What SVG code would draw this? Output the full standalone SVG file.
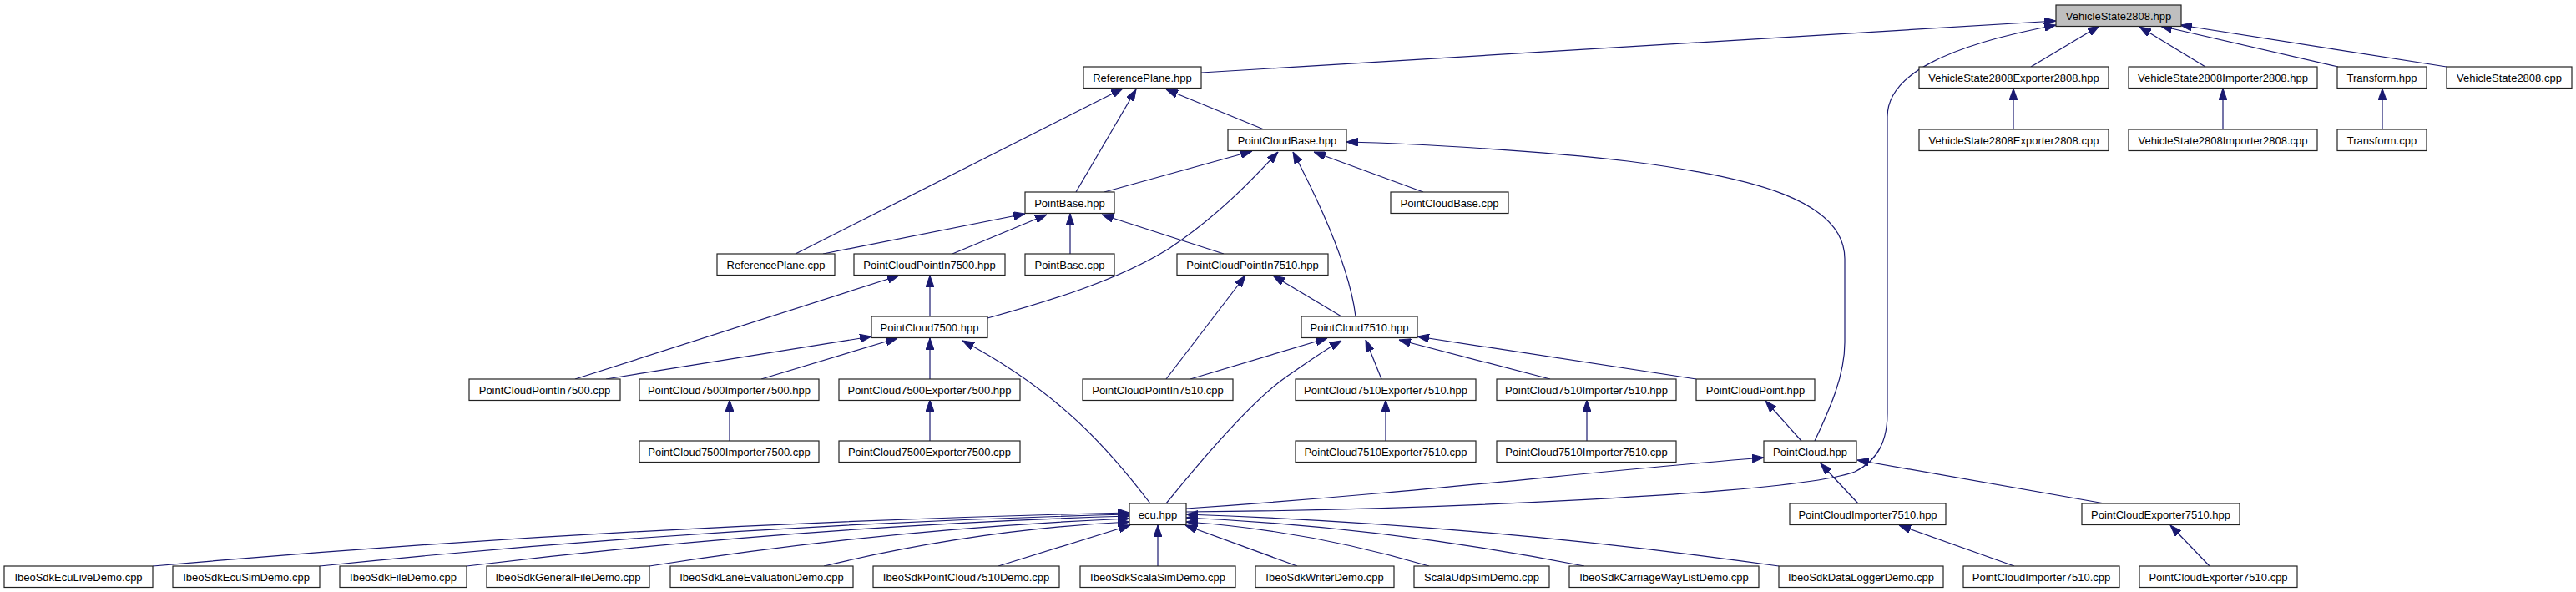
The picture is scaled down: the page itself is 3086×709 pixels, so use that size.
<svg xmlns="http://www.w3.org/2000/svg" width="3086" height="709" viewBox="0 0 3086 709">
<style>
.n rect{fill:#fff;stroke:#222;stroke-width:1.2}
.n text{font-family:"Liberation Sans",Arial,sans-serif;font-size:13px;fill:#000;text-anchor:middle}
.root rect{fill:#bfbfbf}
#edges path{fill:none;stroke:#191970;stroke-width:1.2;marker-end:url(#ah)}
</style>
<defs>
<marker id="ah" viewBox="0 0 14 10" refX="14" refY="5" markerWidth="14" markerHeight="10" markerUnits="userSpaceOnUse" orient="auto"><path d="M0,0 L14,5 L0,10 z" fill="#191970" stroke="#191970" stroke-width="1"/></marker>
</defs>
<rect width="3086" height="709" fill="#fff"/>
<g id="edges">
<path d="M1439,87 L2463,25"/>
<path d="M1421,613 C1700,611 2150,592 2222,565 C2252,550 2261,525 2261,495 L2261,140 C2261,90 2330,55 2463,30"/>
<path d="M2433,80 L2515,31"/>
<path d="M2642,80 L2563,32"/>
<path d="M2801,80 L2588,31"/>
<path d="M2931,80 L2612,30"/>
<path d="M2412,155 L2412,106"/>
<path d="M2663,155 L2663,106"/>
<path d="M2854,155 L2854,106"/>
<path d="M953,304 L1345,106"/>
<path d="M1289,230 L1361,107"/>
<path d="M1514,155 L1397,107"/>
<path d="M1323,230 L1500,181"/>
<path d="M1183,381 C1260,360 1340,335 1400,298 C1460,258 1500,215 1531,182"/>
<path d="M1705,230 L1574,182"/>
<path d="M1624,379 C1618,330 1590,260 1549,182"/>
<path d="M2174,528 C2192,490 2210,450 2210,410 L2210,310 C2210,240 2100,212 1950,193 C1850,181 1700,172 1613,170"/>
<path d="M986,304 L1228,256"/>
<path d="M1141,304 L1254,257"/>
<path d="M1282,304 L1282,256"/>
<path d="M1466,304 L1320,257"/>
<path d="M689,454 L1077,330"/>
<path d="M1114,379 L1114,330"/>
<path d="M726,454 L1044,403"/>
<path d="M912,454 L1075,405"/>
<path d="M1114,454 L1114,405"/>
<path d="M1378,603 C1330,540 1270,470 1153,408"/>
<path d="M1397,454 L1492,330"/>
<path d="M1607,379 L1525,330"/>
<path d="M1426,454 L1590,405"/>
<path d="M1397,603 C1440,550 1500,480 1540,452 C1565,435 1585,420 1607,408"/>
<path d="M1655,454 L1636,407"/>
<path d="M1857,454 L1676,407"/>
<path d="M2032,454 L1698,403"/>
<path d="M874,528 L874,479"/>
<path d="M1114,528 L1114,479"/>
<path d="M1660,528 L1660,479"/>
<path d="M1901,528 L1901,479"/>
<path d="M2158,528 L2115,480"/>
<path d="M1421,609 C1700,590 1900,565 2113,548"/>
<path d="M2226,603 L2181,555"/>
<path d="M2521,603 L2225,551"/>
<path d="M2413,678 L2275,629"/>
<path d="M2647,678 L2600,629"/>
<path d="M183,678 Q768,627 1353,614"/>
<path d="M383,678 Q868,628 1353,616"/>
<path d="M559,678 Q956,630 1353,618"/>
<path d="M778,678 Q1065,633 1353,621"/>
<path d="M987,678 Q1170,634 1353,625"/>
<path d="M1196,678 L1354,629"/>
<path d="M1387,678 L1387,629"/>
<path d="M1554,678 L1420,629"/>
<path d="M1712,678 Q1566,635 1421,625"/>
<path d="M1898,678 Q1660,631 1421,620"/>
<path d="M2131,678 Q1776,628 1421,616"/>
</g>
<g id="n0" class="n root"><rect x="2463" y="6" width="150" height="25.5"/><text x="2538" y="23.5">VehicleState2808.hpp</text></g>
<g id="n1" class="n"><rect x="1298" y="80" width="141" height="25.5"/><text x="1368.5" y="97.5">ReferencePlane.hpp</text></g>
<g id="n2" class="n"><rect x="2299" y="80" width="227" height="25.5"/><text x="2412.5" y="97.5">VehicleState2808Exporter2808.hpp</text></g>
<g id="n3" class="n"><rect x="2550" y="80" width="226" height="25.5"/><text x="2663" y="97.5">VehicleState2808Importer2808.hpp</text></g>
<g id="n4" class="n"><rect x="2800" y="80" width="107" height="25.5"/><text x="2853.5" y="97.5">Transform.hpp</text></g>
<g id="n5" class="n"><rect x="2931" y="80" width="150" height="25.5"/><text x="3006" y="97.5">VehicleState2808.cpp</text></g>
<g id="n6" class="n"><rect x="1471" y="155" width="142" height="25.5"/><text x="1542" y="172.5">PointCloudBase.hpp</text></g>
<g id="n7" class="n"><rect x="2299" y="155" width="227" height="25.5"/><text x="2412.5" y="172.5">VehicleState2808Exporter2808.cpp</text></g>
<g id="n8" class="n"><rect x="2550" y="155" width="226" height="25.5"/><text x="2663" y="172.5">VehicleState2808Importer2808.cpp</text></g>
<g id="n9" class="n"><rect x="2800" y="155" width="107" height="25.5"/><text x="2853.5" y="172.5">Transform.cpp</text></g>
<g id="n10" class="n"><rect x="1228" y="230" width="107" height="25.5"/><text x="1281.5" y="247.5">PointBase.hpp</text></g>
<g id="n11" class="n"><rect x="1666" y="230" width="141" height="25.5"/><text x="1736.5" y="247.5">PointCloudBase.cpp</text></g>
<g id="n12" class="n"><rect x="859" y="304" width="141" height="25.5"/><text x="929.5" y="321.5">ReferencePlane.cpp</text></g>
<g id="n13" class="n"><rect x="1023" y="304" width="181" height="25.5"/><text x="1113.5" y="321.5">PointCloudPointIn7500.hpp</text></g>
<g id="n14" class="n"><rect x="1228" y="304" width="107" height="25.5"/><text x="1281.5" y="321.5">PointBase.cpp</text></g>
<g id="n15" class="n"><rect x="1410" y="304" width="181" height="25.5"/><text x="1500.5" y="321.5">PointCloudPointIn7510.hpp</text></g>
<g id="n16" class="n"><rect x="1044" y="379" width="139" height="25.5"/><text x="1113.5" y="396.5">PointCloud7500.hpp</text></g>
<g id="n17" class="n"><rect x="1559" y="379" width="139" height="25.5"/><text x="1628.5" y="396.5">PointCloud7510.hpp</text></g>
<g id="n18" class="n"><rect x="562" y="454" width="181" height="25.5"/><text x="652.5" y="471.5">PointCloudPointIn7500.cpp</text></g>
<g id="n19" class="n"><rect x="766" y="454" width="215" height="25.5"/><text x="873.5" y="471.5">PointCloud7500Importer7500.hpp</text></g>
<g id="n20" class="n"><rect x="1005" y="454" width="217" height="25.5"/><text x="1113.5" y="471.5">PointCloud7500Exporter7500.hpp</text></g>
<g id="n21" class="n"><rect x="1297" y="454" width="180" height="25.5"/><text x="1387" y="471.5">PointCloudPointIn7510.cpp</text></g>
<g id="n22" class="n"><rect x="1552" y="454" width="216" height="25.5"/><text x="1660" y="471.5">PointCloud7510Exporter7510.hpp</text></g>
<g id="n23" class="n"><rect x="1793" y="454" width="215" height="25.5"/><text x="1900.5" y="471.5">PointCloud7510Importer7510.hpp</text></g>
<g id="n24" class="n"><rect x="2032" y="454" width="142" height="25.5"/><text x="2103" y="471.5">PointCloudPoint.hpp</text></g>
<g id="n25" class="n"><rect x="766" y="528" width="215" height="25.5"/><text x="873.5" y="545.5">PointCloud7500Importer7500.cpp</text></g>
<g id="n26" class="n"><rect x="1005" y="528" width="217" height="25.5"/><text x="1113.5" y="545.5">PointCloud7500Exporter7500.cpp</text></g>
<g id="n27" class="n"><rect x="1552" y="528" width="216" height="25.5"/><text x="1660" y="545.5">PointCloud7510Exporter7510.cpp</text></g>
<g id="n28" class="n"><rect x="1793" y="528" width="215" height="25.5"/><text x="1900.5" y="545.5">PointCloud7510Importer7510.cpp</text></g>
<g id="n29" class="n"><rect x="2113" y="528" width="111" height="25.5"/><text x="2168.5" y="545.5">PointCloud.hpp</text></g>
<g id="n30" class="n"><rect x="1353" y="603" width="68" height="25.5"/><text x="1387" y="620.5">ecu.hpp</text></g>
<g id="n31" class="n"><rect x="2144" y="603" width="187" height="25.5"/><text x="2237.5" y="620.5">PointCloudImporter7510.hpp</text></g>
<g id="n32" class="n"><rect x="2494" y="603" width="189" height="25.5"/><text x="2588.5" y="620.5">PointCloudExporter7510.hpp</text></g>
<g id="n33" class="n"><rect x="5" y="678" width="178" height="25.5"/><text x="94" y="695.5">IbeoSdkEcuLiveDemo.cpp</text></g>
<g id="n34" class="n"><rect x="207" y="678" width="176" height="25.5"/><text x="295" y="695.5">IbeoSdkEcuSimDemo.cpp</text></g>
<g id="n35" class="n"><rect x="407" y="678" width="152" height="25.5"/><text x="483" y="695.5">IbeoSdkFileDemo.cpp</text></g>
<g id="n36" class="n"><rect x="583" y="678" width="195" height="25.5"/><text x="680.5" y="695.5">IbeoSdkGeneralFileDemo.cpp</text></g>
<g id="n37" class="n"><rect x="803" y="678" width="219" height="25.5"/><text x="912.5" y="695.5">IbeoSdkLaneEvaluationDemo.cpp</text></g>
<g id="n38" class="n"><rect x="1046" y="678" width="223" height="25.5"/><text x="1157.5" y="695.5">IbeoSdkPointCloud7510Demo.cpp</text></g>
<g id="n39" class="n"><rect x="1294" y="678" width="186" height="25.5"/><text x="1387" y="695.5">IbeoSdkScalaSimDemo.cpp</text></g>
<g id="n40" class="n"><rect x="1504" y="678" width="166" height="25.5"/><text x="1587" y="695.5">IbeoSdkWriterDemo.cpp</text></g>
<g id="n41" class="n"><rect x="1694" y="678" width="162" height="25.5"/><text x="1775" y="695.5">ScalaUdpSimDemo.cpp</text></g>
<g id="n42" class="n"><rect x="1880" y="678" width="227" height="25.5"/><text x="1993.5" y="695.5">IbeoSdkCarriageWayListDemo.cpp</text></g>
<g id="n43" class="n"><rect x="2131" y="678" width="197" height="25.5"/><text x="2229.5" y="695.5">IbeoSdkDataLoggerDemo.cpp</text></g>
<g id="n44" class="n"><rect x="2352" y="678" width="187" height="25.5"/><text x="2445.5" y="695.5">PointCloudImporter7510.cpp</text></g>
<g id="n45" class="n"><rect x="2563" y="678" width="189" height="25.5"/><text x="2657.5" y="695.5">PointCloudExporter7510.cpp</text></g>
</svg>
